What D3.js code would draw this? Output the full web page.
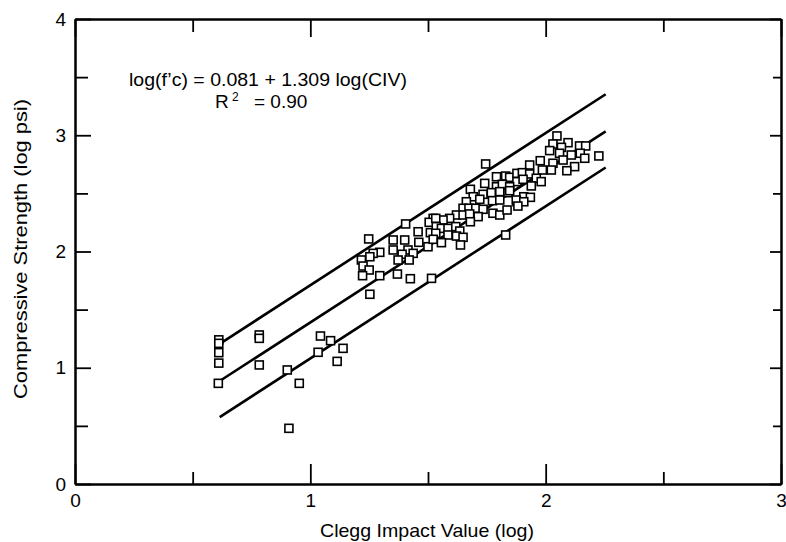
<!DOCTYPE html>
<html><head><meta charset="utf-8">
<script src="https://cdn.jsdelivr.net/npm/d3@7"></script>
<style>
html,body{margin:0;padding:0;background:#fff;}
svg text{font-family:"Liberation Sans",Arial,Helvetica,sans-serif;fill:#000;}
</style></head>
<body><svg id="chart" width="786" height="542"></svg>
<script>
// Data: [log CIV, log f'c]
const xTicks = [0, 1, 2, 3];
const yTicks = [0, 1, 2, 3, 4];
const minorX = [0.5, 1.5, 2.5];
const minorY = [0.5, 1.5, 2.5, 3.5];
const intercept = 0.081;
const slope = 1.309;
const bandOffsets = [0.32, 0, -0.31];
const lineRange = [0.615, 2.255];
const pointsLow = [[0.611,1.24],[0.611,1.21],[0.611,1.13],[0.611,1.04],[0.609,0.866],
 [0.783,1.282],[0.783,1.253],[0.783,1.024],[0.902,0.981],[0.909,0.479],[0.953,0.866],
 [1.043,1.273],[1.086,1.233],[1.033,1.133],[1.139,1.167],[1.114,1.055]];
const pointsMid = [[1.405,2.237],[1.248,2.108],[1.522,2.285],[1.505,2.251],[1.458,2.17],[1.510,2.162],[1.461,2.079],[1.500,2.041],
 [1.352,2.099],[1.401,2.099],[1.352,2.013],[1.415,2.013],[1.390,1.976],[1.437,1.984],[1.373,1.927],[1.420,1.927],
 [1.295,1.993],[1.267,1.984],[1.253,1.955],[1.217,1.927],[1.224,1.875],[1.250,1.841],[1.222,1.792],[1.295,1.792],
 [1.370,1.806],[1.425,1.766],[1.515,1.769],[1.253,1.632]];
const pointsUpper = [[1.745,2.753],[1.830,2.649],[1.791,2.643],[1.847,2.638],[1.878,2.672],[1.878,2.601],[1.741,2.586],[1.791,2.557],[1.816,2.578],[1.847,2.557],
 [1.680,2.535],[1.734,2.492],[1.769,2.506],[1.805,2.515],[1.840,2.506],[1.692,2.471],[1.720,2.449],[1.774,2.437],[1.805,2.443],[1.663,2.428],
 [1.649,2.372],[1.674,2.372],[1.703,2.372],[1.734,2.363],[1.776,2.329],[1.805,2.314],[1.836,2.357],[1.878,2.428],[1.621,2.314],[1.649,2.314],
 [1.677,2.323],[1.713,2.300],[1.680,2.256],[1.592,2.285],[1.564,2.271],[1.533,2.285],[1.535,2.214],[1.557,2.199],[1.585,2.199],[1.618,2.214],
 [1.585,2.142],[1.635,2.176],[1.621,2.133],[1.649,2.122],[1.533,2.157],[1.522,2.105],[1.557,2.076],[1.638,2.056],[1.830,2.142]];
const pointsTop = [[2.048,2.994],[2.031,2.925],[2.095,2.936],[2.067,2.896],[2.144,2.908],[2.170,2.908],[2.017,2.868],[2.059,2.845],[2.109,2.830],[2.147,2.845],
 [2.166,2.802],[2.226,2.822],[2.031,2.759],[2.074,2.787],[2.123,2.730],[2.024,2.701],[2.090,2.695],[1.977,2.781],[1.932,2.744],[1.986,2.701],
 [1.901,2.678],[1.932,2.667],[1.904,2.621],[1.960,2.630],[1.939,2.564],[1.981,2.601],
 [1.847,2.523],[1.907,2.471],[1.935,2.466],[1.875,2.443],[1.907,2.428],[1.882,2.391]];
const points = pointsLow.concat(pointsMid, pointsUpper, pointsTop);

const svg = d3.select("#chart");
const x = d3.scaleLinear().domain([0, 3]).range([75, 781]);
const y = d3.scaleLinear().domain([0, 4]).range([484, 19]);

// Regression and band lines
const lineGen = d3.line().x(d => x(d[0])).y(d => y(d[1]));
bandOffsets.forEach(o => {
  const pts = lineRange.map(v => [v, intercept + o + slope * v]);
  svg.append("path").attr("d", lineGen(pts)).attr("fill", "none")
    .attr("stroke", "#000").attr("stroke-width", 2.6);
});

// Points
const s = 8;
svg.append("g").selectAll("rect").data(points).join("rect")
  .attr("x", d => x(d[0]) - s/2).attr("y", d => y(d[1]) - s/2)
  .attr("width", s).attr("height", s)
  .attr("fill", "#fff").attr("stroke", "#000").attr("stroke-width", 1.6);

// Axes with inward ticks
function axisG(axis, tr){
  const g = svg.append("g").attr("transform", tr).call(axis);
  g.select(".domain").attr("stroke", "#000").attr("stroke-width", 2);
  g.selectAll(".tick line").attr("stroke", "#000").attr("stroke-width", 1.8);
  return g;
}
const fmt = d3.format("d");
// bottom
const gb = axisG(d3.axisBottom(x).tickValues(xTicks).tickSize(-20).tickSizeOuter(0).tickPadding(10).tickFormat(fmt), "translate(0,484)");
gb.selectAll(".tick text").attr("font-size", 19).attr("dy", null).attr("y", 23);
axisG(d3.axisBottom(x).tickValues(minorX).tickSize(-12).tickSizeOuter(0).tickFormat(""), "translate(0,484)");
// top
axisG(d3.axisTop(x).tickValues(xTicks).tickSize(-18).tickSizeOuter(0).tickFormat(""), "translate(0,19)");
axisG(d3.axisTop(x).tickValues(minorX).tickSize(-13).tickSizeOuter(0).tickFormat(""), "translate(0,19)");
// left
const gl = axisG(d3.axisLeft(y).tickValues(yTicks).tickSize(-16).tickSizeOuter(0).tickPadding(9).tickFormat(fmt), "translate(75,0)");
gl.selectAll(".tick text").attr("font-size", 19);
axisG(d3.axisLeft(y).tickValues(minorY).tickSize(-13).tickSizeOuter(0).tickFormat(""), "translate(75,0)");
// right
axisG(d3.axisRight(y).tickValues(yTicks).tickSize(-11).tickSizeOuter(0).tickFormat(""), "translate(781,0)");
axisG(d3.axisRight(y).tickValues(minorY).tickSize(-8).tickSizeOuter(0).tickFormat(""), "translate(781,0)");

// Axis labels
svg.append("text").attr("x", 427).attr("y", 537).attr("text-anchor", "middle")
  .attr("font-size", 19).attr("textLength", 214).attr("lengthAdjust", "spacingAndGlyphs")
  .text("Clegg Impact Value (log)");
svg.append("text").attr("transform", "translate(27,249) rotate(-90)").attr("text-anchor", "middle")
  .attr("font-size", 19).attr("textLength", 300).attr("lengthAdjust", "spacingAndGlyphs")
  .text("Compressive Strength (log psi)");

// Equation annotation
svg.append("text").attr("x", 129).attr("y", 86).attr("font-size", 19)
  .attr("textLength", 278).attr("lengthAdjust", "spacingAndGlyphs")
  .text("log(f\u2019c) = 0.081 + 1.309 log(CIV)");
const r2 = svg.append("text").attr("y", 108).attr("font-size", 19);
r2.append("tspan").attr("x", 215).text("R");
r2.append("tspan").attr("x", 232).attr("dy", -7).attr("font-size", 12).text("2");
r2.append("tspan").attr("x", 254).attr("dy", 7).text("= 0.90");
</script></body></html>
